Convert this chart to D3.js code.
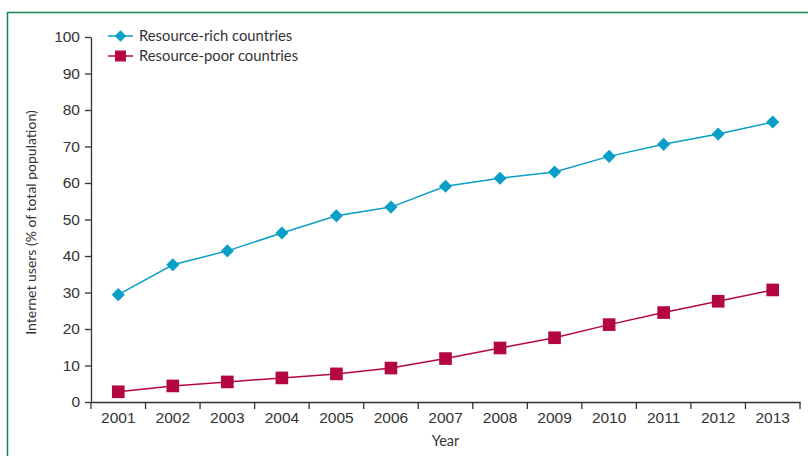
<!DOCTYPE html>
<html>
<head>
<meta charset="utf-8">
<script src="https://cdn.jsdelivr.net/npm/d3@7"></script>
<style>
  body { margin: 0; background: #fff; }
  svg { display: block; font-family: Lato, "Open Sans", sans-serif; }
  .axis text { font-size: 15.5px; fill: #333; }
  .axis path, .axis line { stroke: #333; stroke-width: 1.3; }
</style>
</head>
<body>
<div id="chart"></div>
<script>
// chart values
const years = ["2001", "2002", "2003", "2004", "2005", "2006", "2007", "2008", "2009", "2010", "2011", "2012", "2013"];
const richValues = [29.4, 37.6, 41.4, 46.3, 51.0, 53.4, 59.1, 61.3, 63.0, 67.3, 70.6, 73.4, 76.7];
const poorValues = [2.8, 4.4, 5.5, 6.6, 7.7, 9.3, 11.9, 14.8, 17.6, 21.2, 24.5, 27.6, 30.7];
const yTicks = [0, 10, 20, 30, 40, 50, 60, 70, 80, 90, 100];
const seriesNames = ["Resource-rich countries", "Resource-poor countries"];

const W = 808, H = 456;
const margin = {top: 37, right: 8, bottom: 54, left: 91};
const width = 800 - margin.left;
const height = 402 - margin.top;

const svg = d3.select("#chart").append("svg")
    .attr("width", W)
    .attr("height", H);

// green frame (runs off the right and bottom)
svg.append("path")
    .attr("d", "M7.5," + (H + 2) + " V12.5 H" + (W + 2))
    .attr("fill", "none")
    .attr("stroke", "#13834e")
    .attr("stroke-width", 1.5);

const g = svg.append("g")
    .attr("transform", "translate(" + margin.left + "," + margin.top + ")");

// scales
const x = d3.scaleBand()
    .domain(years)
    .range([0, width]);

const y = d3.scaleLinear()
    .domain([0, 100])
    .range([height, 0]);

// axes
const yAxis = d3.axisLeft(y)
    .tickValues(yTicks)
    .tickSize(6)
    .tickSizeOuter(0)
    .tickPadding(5);

const xAxis = d3.axisBottom(x)
    .tickSize(0)
    .tickPadding(10);

g.append("g")
    .attr("class", "y-axis axis")
    .call(yAxis);

const xg = g.append("g")
    .attr("class", "x-axis axis")
    .attr("transform", "translate(0," + height + ")")
    .call(xAxis);

// tick marks sit on the band edges
xg.selectAll(".edge")
    .data(d3.range(years.length + 1))
    .join("line")
    .attr("class", "edge")
    .attr("x1", i => i * x.step())
    .attr("x2", i => i * x.step())
    .attr("y1", 0)
    .attr("y2", 7);

// axis titles
g.append("text")
    .attr("x", width / 2)
    .attr("y", height + 44)
    .attr("text-anchor", "middle")
    .attr("font-size", 14.5)
    .attr("fill", "#333")
    .text("Year");

g.append("text")
    .attr("transform", "translate(-55," + (height / 2 + 3) + ") rotate(-90)")
    .attr("text-anchor", "middle")
    .attr("font-size", 14)
    .attr("fill", "#333")
    .text("Internet users (% of total population)");

// series
const series = [
    {name: seriesNames[0], values: richValues, color: "#0a9fc6", shape: d3.symbolDiamond2, size: 110},
    {name: seriesNames[1], values: poorValues, color: "#b5073f", shape: d3.symbolSquare, size: 160}
];

const line = d3.line()
    .x((d, i) => x(years[i]) + x.bandwidth() / 2)
    .y(d => y(d));

series.forEach(s => {
    g.append("path")
        .datum(s.values)
        .attr("fill", "none")
        .attr("stroke", s.color)
        .attr("stroke-width", 1.5)
        .attr("d", line);

    g.selectAll(null)
        .data(s.values)
        .join("path")
        .attr("transform", (d, i) => "translate(" + (x(years[i]) + x.bandwidth() / 2) + "," + y(d) + ")")
        .attr("d", d3.symbol().type(s.shape).size(s.size))
        .attr("fill", s.color);
});

// legend
const legend = svg.append("g")
    .attr("transform", "translate(108,36)");

series.forEach((s, i) => {
    const row = legend.append("g")
        .attr("transform", "translate(0," + (i * 20) + ")");
    row.append("line")
        .attr("x1", 0).attr("x2", 25)
        .attr("stroke", s.color)
        .attr("stroke-width", 1.5);
    row.append("path")
        .attr("transform", "translate(12.5,0)")
        .attr("d", d3.symbol().type(s.shape).size(s.size * 0.75))
        .attr("fill", s.color);
    row.append("text")
        .attr("x", 31)
        .attr("dy", "0.35em")
        .attr("font-size", 14.8)
        .attr("fill", "#333")
        .text(s.name);
});
</script>
</body>
</html>
